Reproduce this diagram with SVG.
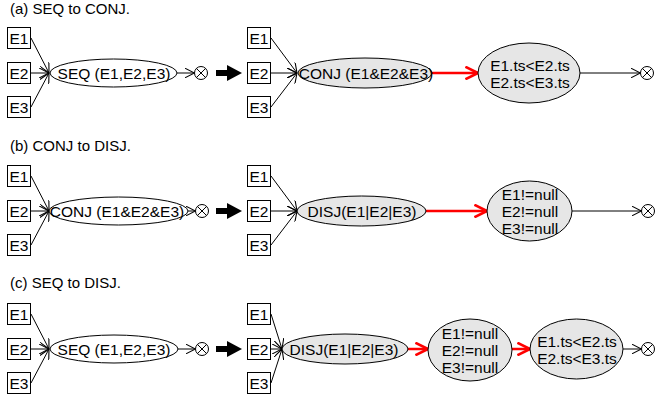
<svg xmlns="http://www.w3.org/2000/svg" width="657" height="398" viewBox="0 0 657 398">
<style>
text{font-family:"Liberation Sans",Arial,sans-serif;fill:#000}
.t{font-size:15px}
.n{font-size:15.5px;text-anchor:middle;dominant-baseline:central}
.box{fill:#fff;stroke:#000;stroke-width:1}
.el{fill:#fff;stroke:#000;stroke-width:1}
.eg{fill:#e6e6e6;stroke:#000;stroke-width:1}
.ln{stroke:#000;stroke-width:1;fill:none;marker-end:url(#oa)}
.rl{stroke:#ff0000;stroke-width:2.5;fill:none;marker-end:url(#ra)}
</style>
<defs>
<marker id="oa" viewBox="0 0 10 10" refX="10" refY="5" markerWidth="10" markerHeight="10" markerUnits="userSpaceOnUse" orient="auto"><path d="M0,0 L10,5 L0,10" fill="none" stroke="#000" stroke-width="1.1"/></marker>
<marker id="ra" viewBox="0 0 10 10" refX="9" refY="5" markerWidth="14" markerHeight="14" markerUnits="userSpaceOnUse" orient="auto"><path d="M0,0.5 L9,5 L0,9.5" fill="none" stroke="#ff0000" stroke-width="1.8"/></marker>
<g id="otimes"><circle cx="0" cy="0" r="6.5" fill="#fff" stroke="#000" stroke-width="1"/><path d="M-4.6,-4.6 L4.6,4.6 M-4.6,4.6 L4.6,-4.6" stroke="#000" stroke-width="1" fill="none"/></g>
<g id="bigarrow"><path d="M216,0 L229,0" stroke="#000" stroke-width="6"/><path d="M227,-8 L242,0 L227,8 Z" fill="#000"/></g>
</defs>

<text class="t" x="10" y="14">(a) SEQ to CONJ.</text>
<text class="t" x="10" y="151">(b) CONJ to DISJ.</text>
<text class="t" x="10" y="288">(c) SEQ to DISJ.</text>

<g id="connectors">
<path class="ln" d="M31,38 L49,73"/>
<path class="ln" d="M31,73 L49,73"/>
<path class="ln" d="M31,107 L49,73"/>
<path class="ln" d="M177,73 L194.5,73"/>
<path class="ln" d="M271,38 L297,73"/>
<path class="ln" d="M271,73 L297,73"/>
<path class="ln" d="M271,107 L297,73"/>
<path class="rl" d="M432,73 L478,73"/>
<path class="ln" d="M580,73 L640.5,73"/>
<path class="ln" d="M31,176 L49,211"/>
<path class="ln" d="M31,211 L49,211"/>
<path class="ln" d="M31,245 L49,211"/>
<path class="ln" d="M188,211 L195.5,211"/>
<path class="ln" d="M271,176 L297,211"/>
<path class="ln" d="M271,211 L297,211"/>
<path class="ln" d="M271,245 L297,211"/>
<path class="rl" d="M426,211 L487,211"/>
<path class="ln" d="M572,211 L641.5,211"/>
<path class="ln" d="M31,314 L49,349"/>
<path class="ln" d="M31,349 L49,349"/>
<path class="ln" d="M31,383 L49,349"/>
<path class="ln" d="M178,349 L195.5,349"/>
<path class="ln" d="M271,314 L282,349"/>
<path class="ln" d="M271,349 L282,349"/>
<path class="ln" d="M271,383 L282,349"/>
<path class="rl" d="M408,349 L428,349"/>
<path class="rl" d="M512,349 L530,349"/>
<path class="ln" d="M623,349 L641.5,349"/>
</g>

<g id="a-e1"><rect class="box" x="7.5" y="27.5" width="23" height="21"/><text class="n" x="19" y="38">E1</text></g>
<g id="a-e2"><rect class="box" x="7.5" y="62.5" width="23" height="21"/><text class="n" x="19" y="73">E2</text></g>
<g id="a-e3"><rect class="box" x="7.5" y="96.5" width="23" height="21"/><text class="n" x="19" y="107">E3</text></g>
<g id="a-seq"><ellipse class="el" cx="113.5" cy="73" rx="63.5" ry="14"/><text class="n" x="114" y="73">SEQ (E1,E2,E3)</text></g>
<g id="a-x1"><use href="#otimes" x="201" y="73"/></g>
<g id="a-big"><use href="#bigarrow" x="0" y="73"/></g>
<g id="a-e1b"><rect class="box" x="247.5" y="27.5" width="23" height="21"/><text class="n" x="259" y="38">E1</text></g>
<g id="a-e2b"><rect class="box" x="247.5" y="62.5" width="23" height="21"/><text class="n" x="259" y="73">E2</text></g>
<g id="a-e3b"><rect class="box" x="247.5" y="96.5" width="23" height="21"/><text class="n" x="259" y="107">E3</text></g>
<g id="a-conj"><ellipse class="eg" cx="365" cy="73" rx="67" ry="15"/><text class="n" x="366" y="73">CONJ (E1&amp;E2&amp;E3)</text></g>
<g id="a-ts"><ellipse class="eg" cx="529" cy="73" rx="51" ry="30"/><text class="n" x="530" y="65">E1.ts&lt;E2.ts</text><text class="n" x="530" y="82">E2.ts&lt;E3.ts</text></g>
<g id="a-x2"><use href="#otimes" x="647" y="73"/></g>

<g id="b-e1"><rect class="box" x="7.5" y="165.5" width="23" height="21"/><text class="n" x="19" y="176">E1</text></g>
<g id="b-e2"><rect class="box" x="7.5" y="200.5" width="23" height="21"/><text class="n" x="19" y="211">E2</text></g>
<g id="b-e3"><rect class="box" x="7.5" y="234.5" width="23" height="21"/><text class="n" x="19" y="245">E3</text></g>
<g id="b-conj"><ellipse class="el" cx="118.5" cy="211" rx="69.5" ry="14"/><text class="n" x="117" y="211">CONJ (E1&amp;E2&amp;E3)</text></g>
<g id="b-x1"><use href="#otimes" x="202" y="211"/></g>
<g id="b-big"><use href="#bigarrow" x="0" y="211"/></g>
<g id="b-e1b"><rect class="box" x="247.5" y="165.5" width="23" height="21"/><text class="n" x="259" y="176">E1</text></g>
<g id="b-e2b"><rect class="box" x="247.5" y="200.5" width="23" height="21"/><text class="n" x="259" y="211">E2</text></g>
<g id="b-e3b"><rect class="box" x="247.5" y="234.5" width="23" height="21"/><text class="n" x="259" y="245">E3</text></g>
<g id="b-disj"><ellipse class="eg" cx="361.5" cy="211" rx="64.5" ry="15"/><text class="n" x="362" y="211">DISJ(E1|E2|E3)</text></g>
<g id="b-null"><ellipse class="eg" cx="529.5" cy="211" rx="42.5" ry="30"/><text class="n" x="530" y="194">E1!=null</text><text class="n" x="530" y="211">E2!=null</text><text class="n" x="530" y="228">E3!=null</text></g>
<g id="b-x2"><use href="#otimes" x="648" y="211"/></g>

<g id="c-e1"><rect class="box" x="7.5" y="303.5" width="23" height="21"/><text class="n" x="19" y="314">E1</text></g>
<g id="c-e2"><rect class="box" x="7.5" y="338.5" width="23" height="21"/><text class="n" x="19" y="349">E2</text></g>
<g id="c-e3"><rect class="box" x="7.5" y="372.5" width="23" height="21"/><text class="n" x="19" y="383">E3</text></g>
<g id="c-seq"><ellipse class="el" cx="114" cy="349" rx="64" ry="14"/><text class="n" x="114" y="349">SEQ (E1,E2,E3)</text></g>
<g id="c-x1"><use href="#otimes" x="202" y="349"/></g>
<g id="c-big"><use href="#bigarrow" x="0" y="349"/></g>
<g id="c-e1b"><rect class="box" x="247.5" y="303.5" width="23" height="21"/><text class="n" x="259" y="314">E1</text></g>
<g id="c-e2b"><rect class="box" x="247.5" y="338.5" width="23" height="21"/><text class="n" x="259" y="349">E2</text></g>
<g id="c-e3b"><rect class="box" x="247.5" y="372.5" width="23" height="21"/><text class="n" x="259" y="383">E3</text></g>
<g id="c-disj"><ellipse class="eg" cx="345" cy="349" rx="63" ry="15"/><text class="n" x="344" y="349">DISJ(E1|E2|E3)</text></g>
<g id="c-null"><ellipse class="eg" cx="470" cy="350" rx="42" ry="31"/><text class="n" x="470" y="333">E1!=null</text><text class="n" x="470" y="350">E2!=null</text><text class="n" x="470" y="367">E3!=null</text></g>
<g id="c-ts"><ellipse class="eg" cx="576.5" cy="349" rx="46.5" ry="30"/><text class="n" x="577" y="341">E1.ts&lt;E2.ts</text><text class="n" x="577" y="358">E2.ts&lt;E3.ts</text></g>
<g id="c-x2"><use href="#otimes" x="648" y="349"/></g>
</svg>
